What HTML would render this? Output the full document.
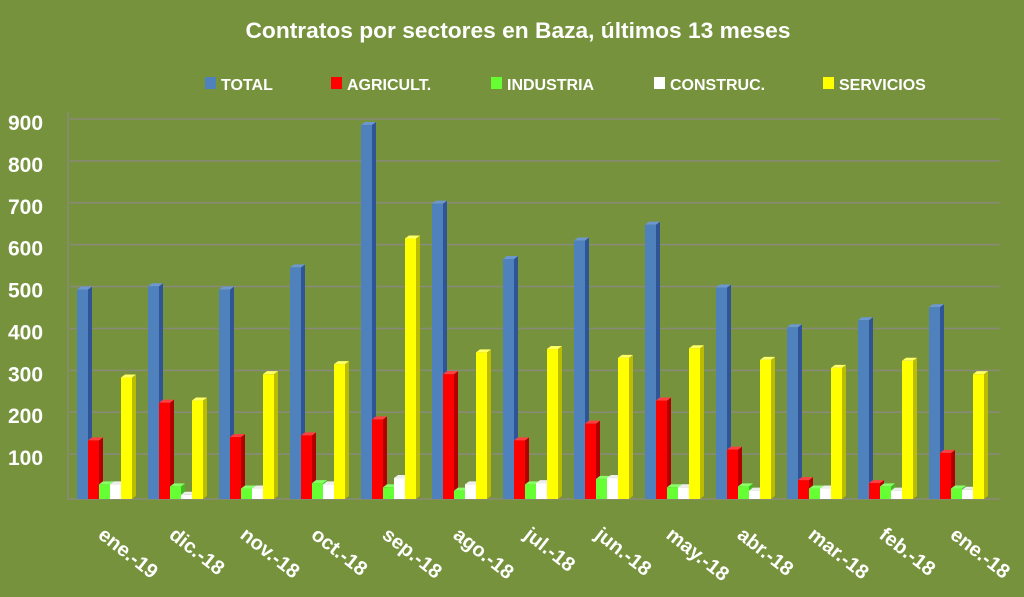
<!DOCTYPE html>
<html><head><meta charset="utf-8"><style>
html,body{margin:0;padding:0;background:#76923c;}
svg{display:block;font-family:"Liberation Sans",sans-serif;font-weight:bold;}
</style></head><body>
<svg id="s" width="1024" height="597" xmlns="http://www.w3.org/2000/svg">
<rect width="1024" height="597" fill="#76923c"/>
<text x="518" y="38" fill="#fff" font-size="22" text-anchor="middle" textLength="545" lengthAdjust="spacingAndGlyphs">Contratos por sectores en Baza, últimos 13 meses</text>
<rect x="205" y="77" width="11" height="12" fill="#4f81bd"/><text x="221" y="90" fill="#fff" font-size="16">TOTAL</text>
<rect x="331" y="77" width="11" height="12" fill="#ff0000"/><text x="347" y="90" fill="#fff" font-size="16">AGRICULT.</text>
<rect x="491" y="77" width="11" height="12" fill="#66ff33"/><text x="507" y="90" fill="#fff" font-size="16">INDUSTRIA</text>
<rect x="654" y="77" width="11" height="12" fill="#ffffff"/><text x="670" y="90" fill="#fff" font-size="16">CONSTRUC.</text>
<rect x="823" y="77" width="11" height="12" fill="#ffff00"/><text x="839" y="90" fill="#fff" font-size="16">SERVICIOS</text>
<g id="g"></g>
</svg>
<script>
var g=document.getElementById('g'),h='';
var base=499,u=(499-122)/900;
for(var i=1;i<=9;i++){var y=base-i*100*u;h+='<line x1="70" y1="'+(y-3)+'" x2="1000" y2="'+(y-3)+'" stroke="#8a8a7a" stroke-width="1.5"/>';
h+='<text x="8" y="'+(y+8)+'" fill="#fff" font-size="21">'+(i*100)+'</text>';}
h+='<line x1="67" y1="'+base+'" x2="1000" y2="'+base+'" stroke="#8a8a7a" stroke-width="1.5"/>';
h+='<line x1="68" y1="112" x2="68" y2="'+base+'" stroke="#8a8a7a" stroke-width="1.5"/>';
var L=['ene.-19','dic.-18','nov.-18','oct.-18','sep.-18','ago.-18','jul.-18','jun.-18','may.-18','abr.-18','mar.-18','feb.-18','ene.-18'];
var D=[[500,140,35,35,290],[508,230,30,10,235],[500,148,25,25,298],[553,152,38,35,322],[893,190,28,50,622],[705,298,20,35,350],[573,140,35,38,358],[617,180,48,50,337],[655,235,28,28,360],[505,118,30,20,332],[410,45,25,25,313],[427,38,30,20,330],[458,110,25,22,298]];
var C=[['#4f81bd','#2f5597','#6d97cf'],['#ff0000','#b00000','#ff4040'],['#66ff33','#44bb22','#88ff66'],['#ffffff','#cccccc','#eeeeee'],['#ffff00','#bbbb00','#ffff66']];
for(var k=0;k<13;k++){var gx=77+k*71;
for(var j=0;j<5;j++){var x=gx+j*11,v=D[k][j],t=base-v*u,w=11,d=4;
h+='<polygon points="'+(x+w)+','+t+' '+(x+w+d)+','+(t-3)+' '+(x+w+d)+','+(base-3)+' '+(x+w)+','+base+'" fill="'+C[j][1]+'"/>';
h+='<polygon points="'+x+','+t+' '+(x+d)+','+(t-3)+' '+(x+w+d)+','+(t-3)+' '+(x+w)+','+t+'" fill="'+C[j][2]+'"/>';
h+='<rect x="'+x+'" y="'+t+'" width="'+w+'" height="'+(base-t)+'" fill="'+C[j][0]+'"/>';}
h+='<text transform="translate('+(gx+20)+',537) rotate(38)" fill="#fff" font-size="20">'+L[k]+'</text>';}
g.innerHTML=h;
</script>
</body></html>
